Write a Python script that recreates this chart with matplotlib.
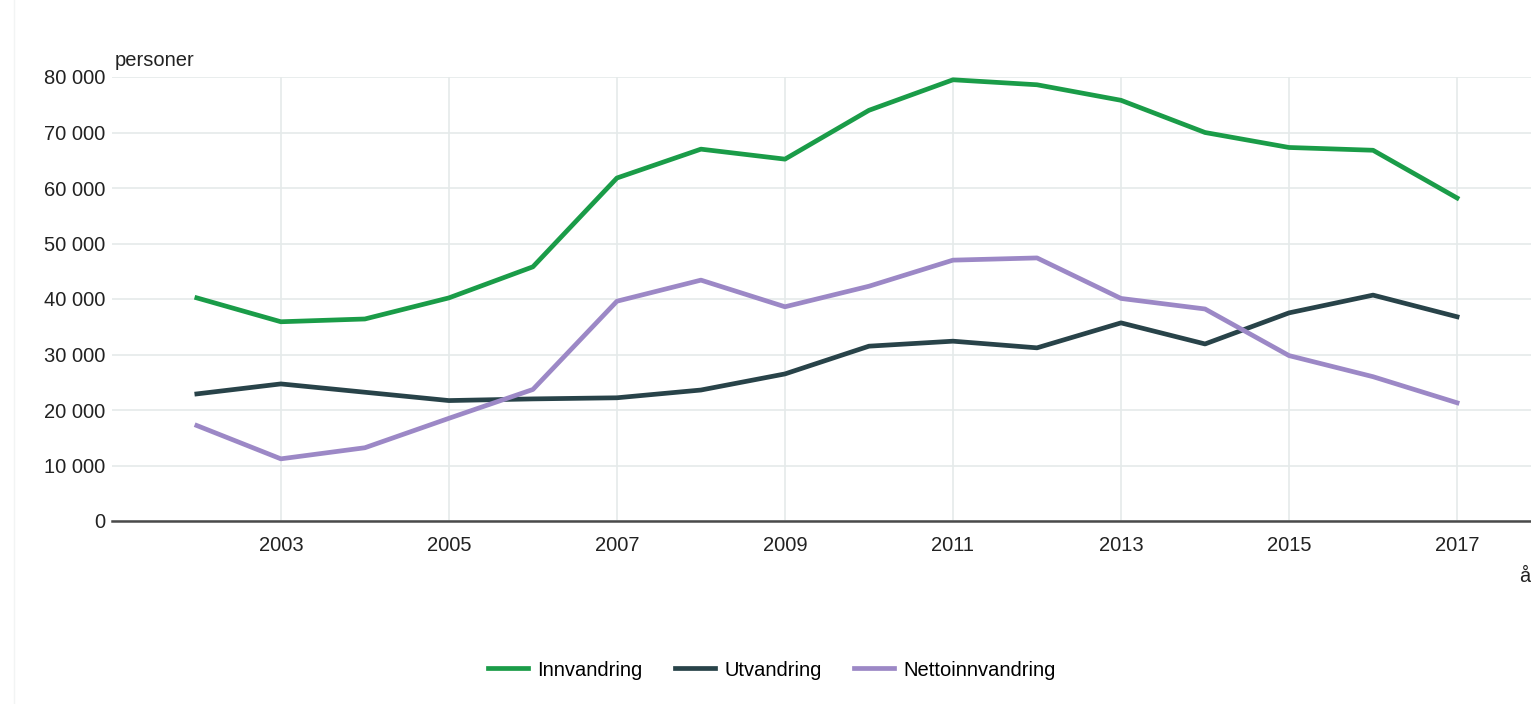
import numpy as np
import matplotlib.pyplot as plt
from matplotlib.lines import Line2D

# Data
years = list(range(2002, 2018))
innvandring = [40200, 35900, 36400, 40200, 45800, 61800, 67000, 65200,
               74000, 79500, 78600, 75800, 70000, 67300, 66800, 58200]
utvandring = [22900, 24700, 23200, 21700, 22000, 22200, 23600, 26500,
              31500, 32400, 31200, 35700, 31900, 37500, 40700, 36800]
netto = [17200, 11200, 13200, 18500, 23700, 39600, 43400, 38600,
         42300, 47000, 47400, 40100, 38200, 29800, 26000, 21300]
series_names = ['Innvandring', 'Utvandring', 'Nettoinnvandring']
colors = ['#1a9c48', '#284349', '#9c88c6']

plt.rcParams['font.family'] = ['Liberation Sans', 'DejaVu Sans']
fs = 14.5

fig = plt.figure(figsize=(15.31, 7.04), dpi=100)
ax = fig.add_axes([112 / 1531, 1 - 521 / 704, 1 - 112 / 1531, (521 - 77) / 704])

for vals, name, c in zip([innvandring, utvandring, netto], series_names, colors):
    ax.plot(years, vals, color=c, lw=3.4, label=name, solid_joinstyle='round', zorder=3)

ax.set_xlim(2000.99, 2017.88)
ax.set_ylim(0, 80000)
ax.set_xticks(range(2003, 2018, 2))
ax.set_yticks(range(0, 80001, 10000))
ax.set_yticklabels([f'{v:,}'.replace(',', ' ') for v in range(0, 80001, 10000)])
ax.grid(True, color='#e5eaea', lw=1.2, zorder=0)
ax.tick_params(length=0, labelsize=fs, colors='#222222')
ax.tick_params(axis='x', pad=11)
ax.tick_params(axis='y', pad=5)
for s in ['left', 'top', 'right']:
    ax.spines[s].set_visible(False)
ax.spines['bottom'].set_color('#4a4a4a')
ax.spines['bottom'].set_linewidth(1.8)
ax.spines['bottom'].set_zorder(4)

fig.text(115 / 1531, 1 - 61 / 704, 'personer', fontsize=fs, color='#222222',
         ha='left', va='center')
fig.text(1525 / 1531, 1 - 577 / 704, 'å', fontsize=fs, color='#222222',
         ha='center', va='center')

# faint frame line on the left
fig.add_artist(Line2D([14 / 1531, 14 / 1531], [0, 1], color='#f2f4f4', lw=1))

fig.legend(loc='center', bbox_to_anchor=(0.504, 1 - 670 / 704), ncol=3,
           frameon=False, fontsize=fs, handlelength=2.0, columnspacing=1.6,
           handletextpad=0.45)

fig.savefig('out.png', dpi=100)
